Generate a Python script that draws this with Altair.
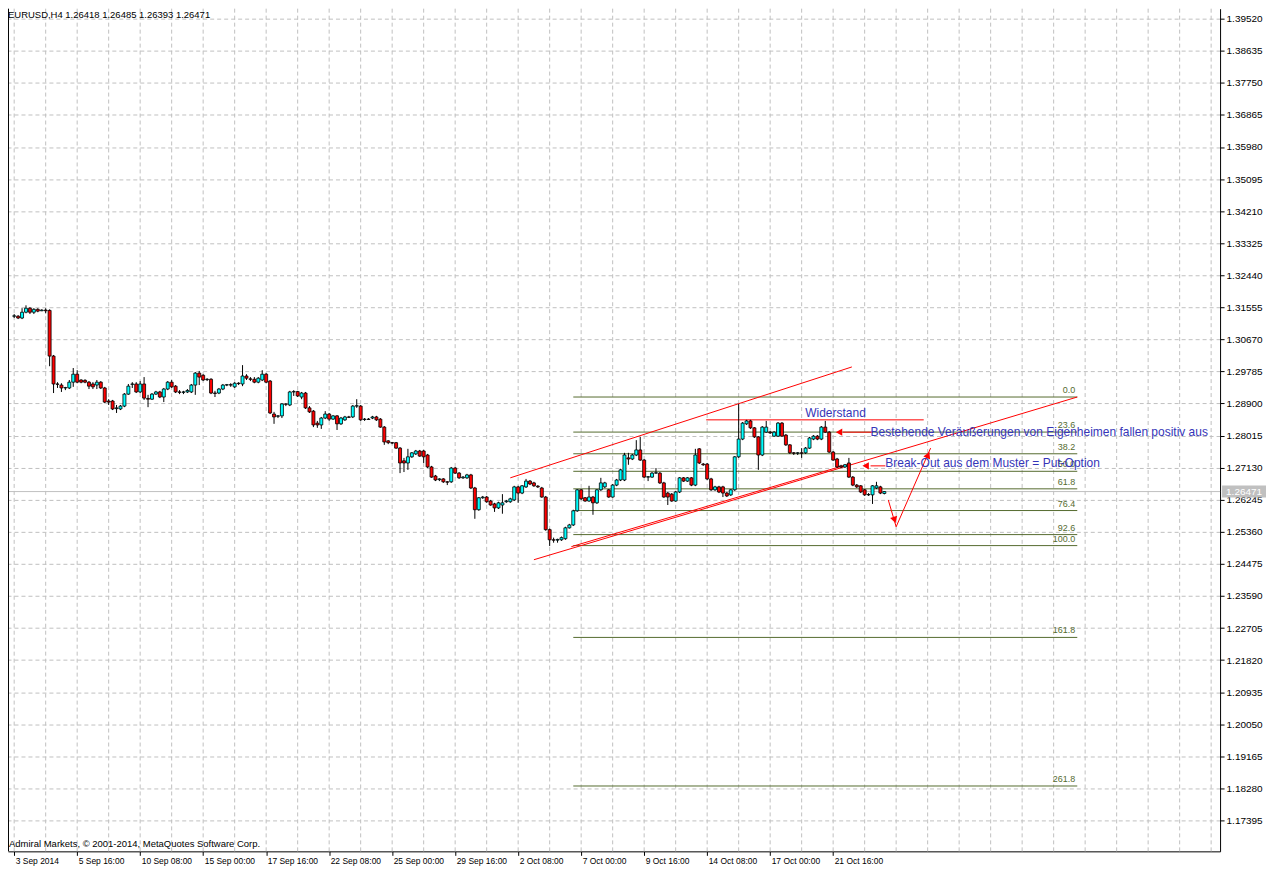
import altair as alt
import pandas as pd

# ---------------- data (EURUSD H4) ----------------
opens = [
    1.3131, 1.3131, 1.3126, 1.3142, 1.3153, 1.3142, 1.3150, 1.3146, 1.3148, 1.3147,
    1.3021, 1.2944, 1.2941, 1.2933, 1.2933, 1.2949, 1.2971, 1.2955, 1.2954, 1.2949,
    1.2944, 1.2941, 1.2949, 1.2933, 1.2897, 1.2897, 1.2876, 1.2875, 1.2883, 1.2916,
    1.2943, 1.2944, 1.2922, 1.2944, 1.2904, 1.2902, 1.2916, 1.2922, 1.2908, 1.2930,
    1.2949, 1.2938, 1.2922, 1.2921, 1.2922, 1.2922, 1.2941, 1.2974, 1.2968, 1.2956,
    1.2957, 1.2919, 1.2919, 1.2930, 1.2941, 1.2942, 1.2936, 1.2946, 1.2944, 1.2966,
    1.2958, 1.2957, 1.2949, 1.2955, 1.2971, 1.2952, 1.2861, 1.2855, 1.2856, 1.2889,
    1.2886, 1.2922, 1.2923, 1.2908, 1.2919, 1.2878, 1.2869, 1.2836, 1.2831, 1.2850,
    1.2861, 1.2847, 1.2856, 1.2834, 1.2845, 1.2853, 1.2853, 1.2883, 1.2883, 1.2846,
    1.2847, 1.2850, 1.2853, 1.2847, 1.2825, 1.2787, 1.2782, 1.2782, 1.2767, 1.2732,
    1.2726, 1.2743, 1.2751, 1.2759, 1.2759, 1.2748, 1.2715, 1.2690, 1.2680, 1.2682,
    1.2674, 1.2674, 1.2712, 1.2698, 1.2685, 1.2685, 1.2693, 1.2657, 1.2597, 1.2630,
    1.2632, 1.2621, 1.2613, 1.2602, 1.2610, 1.2619, 1.2619, 1.2624, 1.2660, 1.2643,
    1.2660, 1.2676, 1.2671, 1.2662, 1.2657, 1.2632, 1.2542, 1.2514, 1.2513, 1.2514,
    1.2517, 1.2547, 1.2555, 1.2594, 1.2652, 1.2630, 1.2621, 1.2632, 1.2616, 1.2652,
    1.2660, 1.2652, 1.2632, 1.2665, 1.2679, 1.2679, 1.2740, 1.2737, 1.2748, 1.2762,
    1.2734, 1.2687, 1.2687, 1.2698, 1.2698, 1.2671, 1.2643, 1.2640, 1.2621, 1.2646,
    1.2685, 1.2676, 1.2685, 1.2665, 1.2765, 1.2723, 1.2723, 1.2682, 1.2652, 1.2660,
    1.2660, 1.2643, 1.2638, 1.2652, 1.2743, 1.2792, 1.2834, 1.2842, 1.2823, 1.2798,
    1.2748, 1.2811, 1.2811, 1.2800, 1.2800, 1.2836, 1.2803, 1.2776, 1.2754, 1.2753,
    1.2754, 1.2754, 1.2767, 1.2792, 1.2800, 1.2792, 1.2825, 1.2811, 1.2756, 1.2737,
    1.2718, 1.2715, 1.2726, 1.2687, 1.2665, 1.2663, 1.2652, 1.2638, 1.2638, 1.2657,
    1.2660, 1.26418,
]
highs = [
    1.3137, 1.3134, 1.3153, 1.3161, 1.3156, 1.3153, 1.3153, 1.3150, 1.3153, 1.3150,
    1.3024, 1.2949, 1.2946, 1.2936, 1.2955, 1.2988, 1.2982, 1.2957, 1.2957, 1.2952,
    1.2949, 1.2955, 1.2952, 1.2936, 1.2902, 1.2900, 1.2886, 1.2886, 1.2919, 1.2944,
    1.2949, 1.2949, 1.2952, 1.2963, 1.2914, 1.2919, 1.2925, 1.2925, 1.2933, 1.2952,
    1.2955, 1.2941, 1.2927, 1.2925, 1.2930, 1.2944, 1.2977, 1.2980, 1.2971, 1.2960,
    1.2960, 1.2925, 1.2933, 1.2944, 1.2944, 1.2946, 1.2949, 1.2949, 1.2996, 1.2971,
    1.2963, 1.2963, 1.2963, 1.2982, 1.2974, 1.2955, 1.2867, 1.2858, 1.2891, 1.2891,
    1.2925, 1.2927, 1.2925, 1.2922, 1.2922, 1.2883, 1.2872, 1.2842, 1.2853, 1.2869,
    1.2864, 1.2858, 1.2858, 1.2853, 1.2856, 1.2856, 1.2886, 1.2902, 1.2886, 1.2850,
    1.2850, 1.2856, 1.2856, 1.2850, 1.2828, 1.2789, 1.2784, 1.2784, 1.2770, 1.2740,
    1.2765, 1.2756, 1.2762, 1.2762, 1.2762, 1.2751, 1.2718, 1.2693, 1.2684, 1.2684,
    1.2676, 1.2715, 1.2715, 1.2701, 1.2690, 1.2696, 1.2696, 1.2660, 1.2632, 1.2635,
    1.2635, 1.2624, 1.2616, 1.2619, 1.2640, 1.2624, 1.2630, 1.2663, 1.2663, 1.2665,
    1.2682, 1.2679, 1.2674, 1.2665, 1.2660, 1.2635, 1.2545, 1.2520, 1.2517, 1.2523,
    1.2550, 1.2558, 1.2597, 1.2654, 1.2654, 1.2632, 1.2663, 1.2635, 1.2654, 1.2685,
    1.2674, 1.2654, 1.2668, 1.2682, 1.2710, 1.2754, 1.2754, 1.2751, 1.2789, 1.2798,
    1.2737, 1.2690, 1.2701, 1.2712, 1.2701, 1.2674, 1.2646, 1.2643, 1.2649, 1.2687,
    1.2687, 1.2687, 1.2687, 1.2765, 1.2767, 1.2726, 1.2726, 1.2685, 1.2663, 1.2663,
    1.2663, 1.2646, 1.2654, 1.2745, 1.2889, 1.2839, 1.2845, 1.2845, 1.2825, 1.2800,
    1.2828, 1.2842, 1.2814, 1.2814, 1.2839, 1.2839, 1.2806, 1.2778, 1.2756, 1.2756,
    1.2767, 1.2770, 1.2798, 1.2803, 1.2803, 1.2828, 1.2842, 1.2814, 1.2759, 1.2740,
    1.2721, 1.2723, 1.2740, 1.2690, 1.2668, 1.2665, 1.2654, 1.2643, 1.2665, 1.2674,
    1.2663, 1.26485,
]
lows = [
    1.3126, 1.3123, 1.3123, 1.3139, 1.3137, 1.3137, 1.3142, 1.3145, 1.3139, 1.2993,
    1.2919, 1.2933, 1.2922, 1.2927, 1.2930, 1.2936, 1.2946, 1.2946, 1.2946, 1.2930,
    1.2930, 1.2930, 1.2930, 1.2891, 1.2886, 1.2872, 1.2864, 1.2872, 1.2880, 1.2914,
    1.2933, 1.2919, 1.2919, 1.2900, 1.2880, 1.2900, 1.2914, 1.2905, 1.2894, 1.2927,
    1.2933, 1.2919, 1.2916, 1.2916, 1.2919, 1.2919, 1.2914, 1.2941, 1.2952, 1.2952,
    1.2916, 1.2908, 1.2916, 1.2927, 1.2938, 1.2936, 1.2933, 1.2941, 1.2938, 1.2955,
    1.2952, 1.2946, 1.2946, 1.2952, 1.2946, 1.2861, 1.2834, 1.2850, 1.2850, 1.2883,
    1.2883, 1.2911, 1.2908, 1.2902, 1.2875, 1.2864, 1.2825, 1.2823, 1.2820, 1.2847,
    1.2842, 1.2845, 1.2817, 1.2831, 1.2842, 1.2850, 1.2850, 1.2878, 1.2842, 1.2842,
    1.2845, 1.2847, 1.2842, 1.2823, 1.2776, 1.2778, 1.2778, 1.2765, 1.2698, 1.2701,
    1.2707, 1.2740, 1.2748, 1.2743, 1.2726, 1.2712, 1.2685, 1.2676, 1.2676, 1.2671,
    1.2665, 1.2671, 1.2696, 1.2682, 1.2682, 1.2682, 1.2654, 1.2572, 1.2594, 1.2627,
    1.2616, 1.2608, 1.2591, 1.2599, 1.2586, 1.2616, 1.2616, 1.2621, 1.2616, 1.2640,
    1.2657, 1.2665, 1.2660, 1.2657, 1.2630, 1.2539, 1.2497, 1.2506, 1.2506, 1.2511,
    1.2514, 1.2545, 1.2552, 1.2591, 1.2624, 1.2619, 1.2619, 1.2583, 1.2613, 1.2649,
    1.2657, 1.2630, 1.2630, 1.2662, 1.2676, 1.2676, 1.2721, 1.2734, 1.2745, 1.2732,
    1.2685, 1.2676, 1.2685, 1.2696, 1.2668, 1.2630, 1.2610, 1.2619, 1.2619, 1.2643,
    1.2674, 1.2674, 1.2662, 1.2662, 1.2723, 1.2718, 1.2679, 1.2649, 1.2649, 1.2643,
    1.2632, 1.2632, 1.2635, 1.2649, 1.2740, 1.2789, 1.2831, 1.2820, 1.2795, 1.2707,
    1.2745, 1.2809, 1.2806, 1.2798, 1.2798, 1.2798, 1.2773, 1.2751, 1.2748, 1.2748,
    1.2740, 1.2751, 1.2765, 1.2789, 1.2789, 1.2789, 1.2809, 1.2754, 1.2732, 1.2712,
    1.2712, 1.2712, 1.2685, 1.2662, 1.2657, 1.2643, 1.2635, 1.2635, 1.2613, 1.2654,
    1.2640, 1.26393,
]
closes = [
    1.3132, 1.3126, 1.3142, 1.3153, 1.3142, 1.3150, 1.3145, 1.3148, 1.3146, 1.3021,
    1.2944, 1.2943, 1.2933, 1.2934, 1.2949, 1.2971, 1.2949, 1.2949, 1.2949, 1.2938,
    1.2936, 1.2949, 1.2933, 1.2894, 1.2894, 1.2875, 1.2878, 1.2883, 1.2916, 1.2938,
    1.2944, 1.2922, 1.2944, 1.2905, 1.2902, 1.2916, 1.2922, 1.2908, 1.2930, 1.2949,
    1.2936, 1.2922, 1.2921, 1.2922, 1.2926, 1.2941, 1.2974, 1.2963, 1.2955, 1.2957,
    1.2919, 1.2918, 1.2930, 1.2941, 1.2942, 1.2941, 1.2946, 1.2945, 1.2966, 1.2960,
    1.2957, 1.2949, 1.2960, 1.2971, 1.2949, 1.2864, 1.2853, 1.2856, 1.2889, 1.2888,
    1.2922, 1.2923, 1.2911, 1.2919, 1.2878, 1.2867, 1.2831, 1.2831, 1.2850, 1.2861,
    1.2847, 1.2856, 1.2834, 1.2850, 1.2853, 1.2852, 1.2883, 1.2884, 1.2845, 1.2847,
    1.2846, 1.2853, 1.2845, 1.2825, 1.2784, 1.2782, 1.2781, 1.2767, 1.2726, 1.2726,
    1.2743, 1.2754, 1.2759, 1.2745, 1.2743, 1.2715, 1.2687, 1.2679, 1.2682, 1.2674,
    1.2673, 1.2712, 1.2698, 1.2685, 1.2687, 1.2693, 1.2657, 1.2597, 1.2630, 1.2632,
    1.2619, 1.2610, 1.2602, 1.2616, 1.2616, 1.2621, 1.2627, 1.2660, 1.2643, 1.2663,
    1.2676, 1.2668, 1.2663, 1.2660, 1.2632, 1.2542, 1.2514, 1.2513, 1.2515, 1.2520,
    1.2547, 1.2555, 1.2594, 1.2652, 1.2627, 1.2621, 1.2632, 1.2616, 1.2652, 1.2671,
    1.2671, 1.2632, 1.2665, 1.2679, 1.2707, 1.2748, 1.2737, 1.2748, 1.2762, 1.2734,
    1.2687, 1.2688, 1.2698, 1.2699, 1.2671, 1.2632, 1.2632, 1.2621, 1.2646, 1.2685,
    1.2676, 1.2685, 1.2665, 1.2748, 1.2726, 1.2721, 1.2682, 1.2652, 1.2660, 1.2646,
    1.2643, 1.2635, 1.2652, 1.2743, 1.2792, 1.2836, 1.2842, 1.2823, 1.2798, 1.2748,
    1.2825, 1.2825, 1.2809, 1.2811, 1.2836, 1.2800, 1.2776, 1.2754, 1.2753, 1.2754,
    1.2753, 1.2767, 1.2795, 1.2800, 1.2792, 1.2825, 1.2811, 1.2756, 1.2734, 1.2715,
    1.2715, 1.2721, 1.2687, 1.2665, 1.2660, 1.2646, 1.2638, 1.2639, 1.2663, 1.2663,
    1.2643, 1.26471,
]

date_ticks = [0, 16, 32, 48, 64, 80, 96, 112, 128, 144, 160, 176, 192, 208]
date_labels = ["3 Sep 2014", "5 Sep 16:00", "10 Sep 08:00", "15 Sep 00:00",
               "17 Sep 16:00", "22 Sep 08:00", "25 Sep 00:00", "29 Sep 16:00",
               "2 Oct 08:00", "7 Oct 00:00", "9 Oct 16:00", "14 Oct 08:00",
               "17 Oct 00:00", "21 Oct 16:00"]
price_ticks = [1.39520, 1.38635, 1.37750, 1.36865, 1.35980, 1.35095, 1.34210,
               1.33325, 1.32440, 1.31555, 1.30670, 1.29785, 1.28900, 1.28015,
               1.27130, 1.26245, 1.25360, 1.24475, 1.23590, 1.22705, 1.21820,
               1.20935, 1.20050, 1.19165, 1.18280, 1.17395]
grid_bars = list(range(0, 305, 8))

bid_price = 1.26471
header = "EURUSD,H4  1.26418 1.26485 1.26393 1.26471"
copyright_text = "Admiral Markets, \u00a9 2001-2014, MetaQuotes Software Corp."

# Fibonacci retracement
fib_levels = [0.0, 23.6, 38.2, 50.0, 61.8, 76.4, 92.6, 100.0, 161.8, 261.8]
fib_high = 1.2908
fib_low = 1.2498
fib_from, fib_to = 142, 270

# red drawn lines (bar index / price)
red_x0 = [126, 132, 141.5, 175.75, 218.0, 221.25, 222.0, 224.0]
red_x1 = [212.75, 270, 212.0, 231.0, 210.5, 217.5, 224.0, 232.75]
red_y0 = [1.2685, 1.2459, 1.2495, 1.2845, 1.2811, 1.2718, 1.2624, 1.2550]
red_y1 = [1.2991, 1.2908, 1.2723, 1.2845, 1.2811, 1.2718, 1.2550, 1.2767]

# arrow heads
head_x = [209.5, 216.25, 223.6, 232.1]
head_y = [1.2811, 1.2718, 1.2569, 1.2748]
head_angle = [270, 270, 163, 24]

# text notes
notes = ["Widerstand",
         "Bestehende Ver\u00e4u\u00dferungen von Eigenheimen fallen positiv aus",
         "Break-Out aus dem Muster = Put-Option"]
note_x = [208.6, 217.5, 221.25]
note_y = [1.2865, 1.2811, 1.2726]

# ---------------- chart ----------------
W, H = 1214, 844
FONT = "Liberation Sans"
BLUE = "#3535b8"
OLIVE = "#556b2f"

xs = alt.Scale(domain=[-0.3, 305], nice=False, zero=False)
ys = alt.Scale(domain=[1.16543, 1.39796], nice=False, zero=False)

label_expr = "[" + ",".join("'%s'" % s for s in date_labels) + "][round(datum.value / 16)]"
xaxis = alt.Axis(values=date_ticks, labelExpr=label_expr, grid=False, title=None,
                 domainColor="black", tickColor="black", tickSize=4,
                 labelAlign="left", labelBaseline="top", labelPadding=1,
                 labelOffset=1, labelFont=FONT, labelFontSize=8.5,
                 labelColor="black", labelOverlap=False, labelFlush=False)
yaxis = alt.Axis(values=price_ticks, format=".5f", orient="right", title=None,
                 grid=True, gridColor="#c0c0c0", gridDash=[4, 3],
                 domainColor="black", tickColor="black", tickSize=4,
                 labelPadding=2, labelFont=FONT, labelFontSize=10,
                 labelColor="black", labelOverlap=False, labelFlush=False)


def X(f):
    return alt.X(f, type="quantitative", scale=xs, axis=xaxis)


def Y(f):
    return alt.Y(f, type="quantitative", scale=ys, axis=yaxis)


df = pd.DataFrame({"i": list(range(len(opens))), "open": opens, "high": highs,
                   "low": lows, "close": closes})
df["dir"] = ["up" if c >= o else "down" for o, c in zip(opens, closes)]

grid = alt.Chart(pd.DataFrame({"g": grid_bars})).mark_rule(
    color="#c0c0c0", strokeDash=[4, 3], strokeWidth=1).encode(x=X("g"))

bid = alt.Chart(pd.DataFrame({"p": [bid_price]})).mark_rule(
    color="#c0c0c0", strokeWidth=1).encode(y=Y("p"))

fib_df = pd.DataFrame({
    "lvl": fib_levels,
    "label": ["%.1f" % l for l in fib_levels],
    "price": [fib_high - l / 100.0 * (fib_high - fib_low) for l in fib_levels],
    "x0": [fib_from] * len(fib_levels),
    "x1": [fib_to] * len(fib_levels),
    "xl": [fib_to - 0.5] * len(fib_levels),
})
fib_lines = alt.Chart(fib_df).mark_rule(color=OLIVE, strokeWidth=1).encode(
    x=X("x0"), x2="x1", y=Y("price"))
fib_text = alt.Chart(fib_df).mark_text(
    align="right", baseline="bottom", dy=-2, font=FONT, fontSize=9, color=OLIVE
).encode(x=X("xl"), y=Y("price"), text="label:N")

red_df = pd.DataFrame({"x0": red_x0, "x1": red_x1, "y0": red_y0, "y1": red_y1})
red_lines = alt.Chart(red_df).mark_rule(color="#ff0000", strokeWidth=1).encode(
    x=X("x0"), x2="x1", y=Y("y0"), y2="y1")

wicks = alt.Chart(df).mark_rule(color="black", strokeWidth=1).encode(
    x=X("i"), y=Y("low"), y2="high")
bodies = alt.Chart(df).mark_bar(size=3, stroke="black", strokeWidth=0.8).encode(
    x=X("i"), y=Y("open"), y2="close",
    color=alt.Color("dir:N", scale=alt.Scale(domain=["up", "down"],
                                             range=["#00ffff", "#ff0000"]),
                    legend=None))

heads = alt.Chart(pd.DataFrame({"x": head_x, "y": head_y, "a": head_angle})).mark_point(
    shape="triangle-up", filled=True, color="#ff0000", size=55, opacity=1
).encode(x=X("x"), y=Y("y"), angle=alt.Angle("a:Q", scale=None))

note_df = pd.DataFrame({"t": notes, "x": note_x, "y": note_y})
note_center = alt.Chart(note_df.iloc[:1]).mark_text(
    align="center", baseline="middle", font=FONT, fontSize=12, color=BLUE
).encode(x=X("x"), y=Y("y"), text="t:N")
note_left = alt.Chart(note_df.iloc[1:]).mark_text(
    align="left", baseline="middle", font=FONT, fontSize=12, color=BLUE
).encode(x=X("x"), y=Y("y"), text="t:N")

head_txt = alt.Chart(pd.DataFrame({"t": [header]})).mark_text(
    align="left", baseline="top", font=FONT, fontSize=9.5, color="black"
).encode(x=alt.value(0), y=alt.value(1), text="t:N")
copy_txt = alt.Chart(pd.DataFrame({"t": [copyright_text]})).mark_text(
    align="left", baseline="middle", font=FONT, fontSize=9.5, color="black"
).encode(x=alt.value(1), y=alt.value(H - 7), text="t:N")

bid_df = pd.DataFrame({"p": [bid_price], "t": ["%.5f" % bid_price]})
bid_box = alt.Chart(bid_df).mark_rect(color="#c0c0c0", yOffset=-6, y2Offset=6).encode(
    x=alt.value(W + 2), x2=alt.value(W + 46), y=Y("p"), y2="p")
bid_txt = alt.Chart(bid_df).mark_text(
    align="left", baseline="middle", font=FONT, fontSize=10, color="white"
).encode(x=alt.value(W + 6), y=Y("p"), text="t:N")

left_border = alt.Chart(pd.DataFrame({"a": [0]})).mark_rule(color="black").encode(
    x=alt.value(0.5), y=alt.value(0), y2=alt.value(H))

chart = alt.layer(
    grid, bid, fib_lines, fib_text, red_lines, wicks, bodies, heads,
    note_center, note_left, head_txt, copy_txt, bid_box, bid_txt, left_border
).properties(
    width=W, height=H, autosize="none",
    padding={"left": 0, "top": 0, "right": 48, "bottom": 18},
    background="white",
).configure_view(stroke=None)

chart.save("out.html", embed_options={"renderer": "svg", "actions": False})
